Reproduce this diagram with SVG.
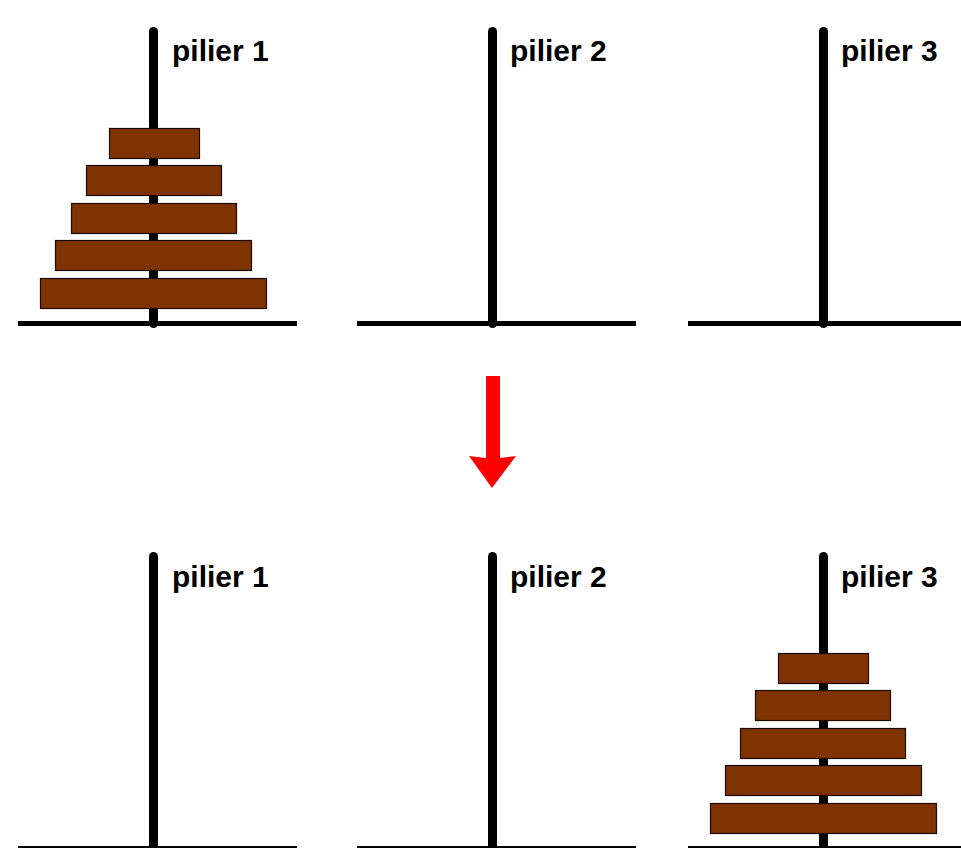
<svg xmlns="http://www.w3.org/2000/svg" width="961" height="848" viewBox="0 0 961 848">
<style>
.pole{stroke:#000;stroke-width:9;stroke-linecap:round;fill:none}
.base{stroke:#000;stroke-width:5;fill:none}
.disk{fill:#7f3300;stroke:#1a0a00;stroke-width:1.2}
.lbl{font-family:"Liberation Sans",Arial,sans-serif;font-weight:bold;font-size:30px;fill:#000}
</style>
<rect width="961" height="848" fill="#fff"/>
<g id="top-pilier1">
<line class="pole" x1="153.5" y1="31.5" x2="153.5" y2="323.5"/>
<line class="base" x1="18" y1="323.5" x2="297" y2="323.5"/>
<text class="lbl" x="172" y="61">pilier 1</text>
<rect class="disk" x="109.5" y="128.5" width="90" height="30"/>
<rect class="disk" x="86.5" y="165.5" width="135" height="30"/>
<rect class="disk" x="71.5" y="203.5" width="165" height="30"/>
<rect class="disk" x="55.5" y="240.5" width="196" height="30"/>
<rect class="disk" x="40.5" y="278.5" width="226" height="30"/>
</g>
<g id="top-pilier2">
<line class="pole" x1="492.5" y1="31.5" x2="492.5" y2="323.5"/>
<line class="base" x1="357" y1="323.5" x2="636" y2="323.5"/>
<text class="lbl" x="510" y="61">pilier 2</text>
</g>
<g id="top-pilier3">
<line class="pole" x1="823.5" y1="31.5" x2="823.5" y2="323.5"/>
<line class="base" x1="688" y1="323.5" x2="961" y2="323.5"/>
<text class="lbl" x="841" y="61">pilier 3</text>
</g>
<g id="connectors">
<polygon points="486,376 500,376 500,458 516,456 492,488 469,456 486,458" fill="#ff0000"/>
</g>
<g id="bottom-pilier1">
<line class="pole" x1="153.5" y1="556.5" x2="153.5" y2="848.5"/>
<line class="base" x1="18" y1="848.5" x2="297" y2="848.5"/>
<text class="lbl" x="172" y="587">pilier 1</text>
</g>
<g id="bottom-pilier2">
<line class="pole" x1="492.5" y1="556.5" x2="492.5" y2="848.5"/>
<line class="base" x1="357" y1="848.5" x2="636" y2="848.5"/>
<text class="lbl" x="510" y="587">pilier 2</text>
</g>
<g id="bottom-pilier3">
<line class="pole" x1="823.5" y1="556.5" x2="823.5" y2="848.5"/>
<line class="base" x1="688" y1="848.5" x2="961" y2="848.5"/>
<text class="lbl" x="841" y="587">pilier 3</text>
<rect class="disk" x="778.5" y="653.5" width="90" height="30"/>
<rect class="disk" x="755.5" y="690.5" width="135" height="30"/>
<rect class="disk" x="740.5" y="728.5" width="165" height="30"/>
<rect class="disk" x="725.5" y="765.5" width="196" height="30"/>
<rect class="disk" x="710.5" y="803.5" width="226" height="30"/>
</g>
</svg>
